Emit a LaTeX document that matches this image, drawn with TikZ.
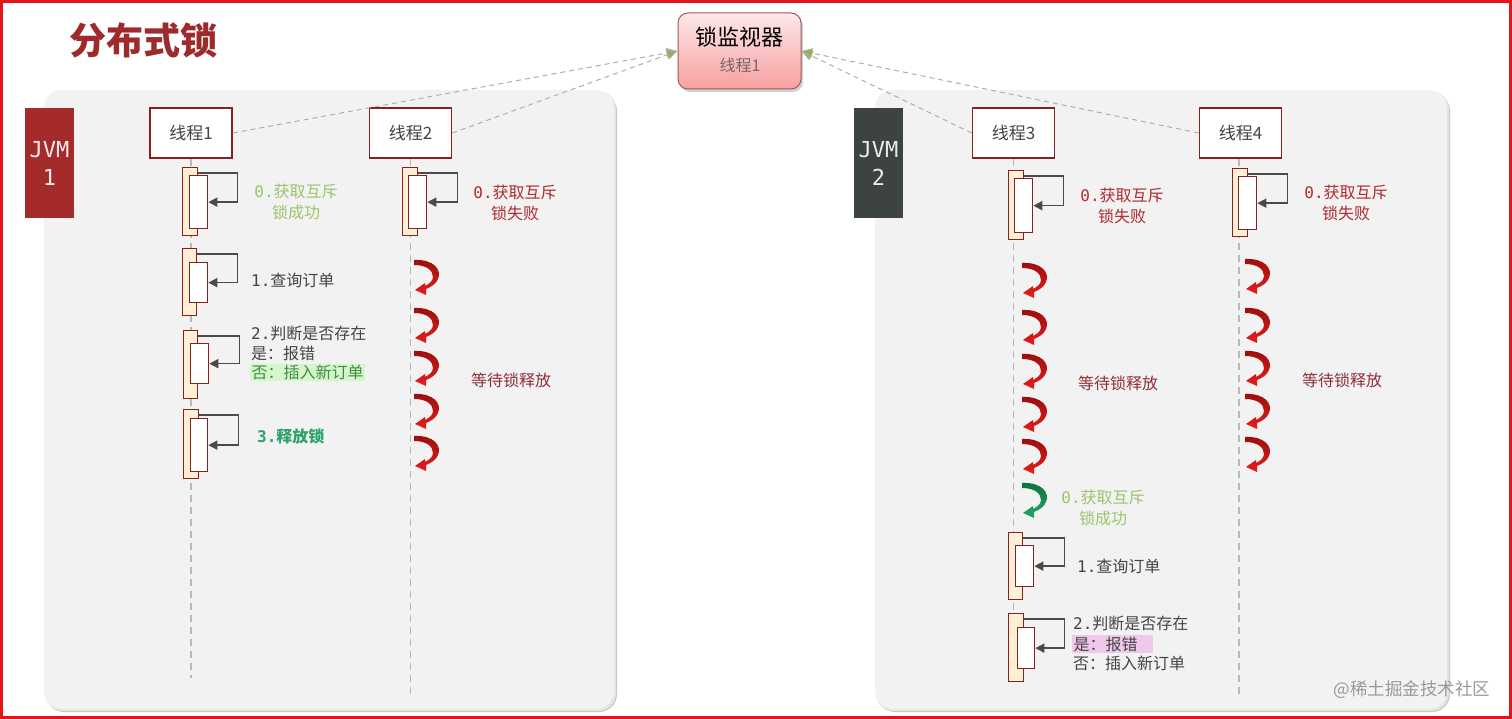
\documentclass[tikz,border=0pt]{standalone}
\usepackage{fontspec}
\setmainfont{Noto Sans CJK SC}
\setmonofont{DejaVu Sans Mono}
\usetikzlibrary{arrows.meta}
\definecolor{framered}{HTML}{E3151C}
\definecolor{titlered}{HTML}{9E2A2B}
\definecolor{boxred}{HTML}{8B1E1E}
\definecolor{cream}{HTML}{FDF0D5}
\definecolor{arrgray}{HTML}{4A4A4A}
\definecolor{lifegray}{HTML}{B8B8B8}
\definecolor{conngray}{HTML}{B4AE9E}
\definecolor{arrgreen}{HTML}{8DB255}
\definecolor{panelgray}{HTML}{F2F2F2}
\definecolor{jvmred}{HTML}{A52A2A}
\definecolor{jvmgray}{HTML}{3D4343}
\definecolor{lgreen}{HTML}{9CC46C}
\definecolor{dred}{HTML}{B02A2E}
\definecolor{maroon}{HTML}{8E2F3C}
\definecolor{sgreen}{HTML}{2BA36B}
\definecolor{tgray}{HTML}{444444}
\definecolor{hlgreen}{HTML}{D5F5CC}
\definecolor{hltext}{HTML}{3F8F3F}
\definecolor{hlpink}{HTML}{F0C8EC}
\definecolor{wmgray}{HTML}{9A9A9A}
\definecolor{redbright}{HTML}{E81C1C}
\definecolor{reddark}{HTML}{9A0E0E}
\definecolor{greenbright}{HTML}{22A865}
\definecolor{greendark}{HTML}{0E7040}
\definecolor{montop}{HTML}{FDE8E8}
\definecolor{monbot}{HTML}{F7A0A0}
\definecolor{monborder}{HTML}{A05A5A}
\definecolor{mongray}{HTML}{7A6666}
\newcommand{\mn}[1]{{\ttfamily #1}}
\begin{document}
\begin{tikzpicture}[x=1pt,y=-1pt,
  thread/.style={draw=boxred, line width=1.6pt, fill=white, minimum width=82pt, minimum height=50pt, inner sep=0pt, font=\fontsize{17}{20}\selectfont, text=tgray},
  actout/.style={draw=boxred, line width=1.3pt, fill=cream, inner sep=0pt, anchor=north west},
  actin/.style={draw=boxred, line width=1.3pt, fill=white, inner sep=0pt, anchor=north west},
  selfarr/.style={draw=arrgray, line width=1.6pt, -{Triangle[length=9pt,width=9pt]}},
  life/.style={draw=lifegray, line width=1.4pt, dash pattern=on 7pt off 5pt},
  conn/.style={draw=conngray, line width=1pt, dash pattern=on 5pt off 4pt, -{Triangle[length=11pt,width=10pt,fill=arrgreen]}},
  lbl/.style={font=\fontsize{16}{21}\selectfont, inner sep=0pt, align=center},
  jvm/.style={minimum width=49pt, minimum height=110pt, inner sep=0pt, align=center, font=\ttfamily\fontsize{22}{28}\selectfont},
  pics/waitarr/.style={code={
    \shade[top color=#1dark, bottom color=#1bright]
      (0,-2) .. controls (20,-3) and (28,8) .. (24,17)
      .. controls (22,22) and (17,25) .. (12,27)
      -- (12,33) -- (1,28) -- (11,21) -- (11,24)
      .. controls (15,22) and (19,19) .. (19,15)
      .. controls (19,8) and (12,3) .. (0,3) -- cycle;
  }}
]
\useasboundingbox (0,0) rectangle (1512,719);
\fill[white] (0,0) rectangle (1512,719);
\draw[framered, line width=3pt] (1.5,1.5) rectangle (1510.5,717.5);

% title
\node[font=\bfseries\fontsize{37}{40}\selectfont, text=titlered, inner sep=0pt] (title) at (143,40) {分布式锁};

% panels with shadow
\fill[black!22, rounded corners=18pt] (46,93) rectangle (617,712);
\fill[black!10, rounded corners=18pt] (45,91) rectangle (616,711);
\fill[panelgray, rounded corners=18pt] (44,90) rectangle (614,709);
\fill[black!22, rounded corners=18pt] (877,93) rectangle (1450,712);
\fill[black!10, rounded corners=18pt] (876,91) rectangle (1449,711);
\fill[panelgray, rounded corners=18pt] (875,90) rectangle (1447,709);

% JVM labels
\node[jvm, fill=jvmred, text=white!92!red] (jvm1) at (49.5,163) {JVM\\1};
\node[jvm, fill=jvmgray, text=white!92!black] (jvm2) at (878.5,163) {JVM\\2};

% monitor
\fill[black!18, rounded corners=10pt] (680,16) rectangle (803,92);
\node[draw=monborder, line width=1pt, top color=montop, bottom color=monbot, rounded corners=10pt, minimum width=123pt, minimum height=76pt, inner sep=0pt] (mon) at (739.5,51) {};
\node[font=\fontsize{22}{24}\selectfont, inner sep=0pt] (monT) at (739.5,37) {锁监视器};
\node[font=\fontsize{16}{18}\selectfont, text=mongray, inner sep=0pt] (monS) at (740,65) {线程1};

% threads
\node[thread] (t1) at (191,133) {线程1};
\node[thread] (t2) at (410.5,133) {线程2};
\node[thread] (t3) at (1013.5,133) {线程3};
\node[thread] (t4) at (1240.5,133) {线程4};

% connectors to monitor
\draw[conn] (t1.east) -- (mon.west);
\draw[conn] (t2.east) -- (mon.west);
\draw[conn] (t3.west) -- (mon.east);
\draw[conn] (t4.west) -- (mon.east);

% lifelines
\coordinate (e1) at (191,678);
\coordinate (e2) at (410.5,698);
\coordinate (e3) at (1013.5,681);
\coordinate (e4) at (1239,698);
\draw[life] (t1.south) -- (e1);
\draw[life] (t2.south) -- (e2);
\draw[life] (t3.south) -- (e3);
\draw[life] ([xshift=-1.5pt]t4.south) -- (e4);

% thread 1 activations
\node[actout, minimum width=15pt, minimum height=68pt] (a10o) at (182,167) {};
\node[actin, minimum width=18pt, minimum height=53pt] (a10i) at (189,175) {};
\draw[selfarr] ([yshift=-6pt]a10o.north east) -- ++(39,0) |- (a10i.east);
\node[actout, minimum width=14pt, minimum height=67pt] (a11o) at (182,248) {};
\node[actin, minimum width=18pt, minimum height=40pt] (a11i) at (189,262) {};
\draw[selfarr] ([yshift=-6pt]a11o.north east) -- ++(40,0) |- (a11i.east);
\node[actout, minimum width=14pt, minimum height=68pt] (a12o) at (183,330) {};
\node[actin, minimum width=18pt, minimum height=40pt] (a12i) at (190,343) {};
\draw[selfarr] ([yshift=-6pt]a12o.north east) -- ++(41,0) |- (a12i.east);
\node[actout, minimum width=15pt, minimum height=69pt] (a13o) at (183,409) {};
\node[actin, minimum width=17pt, minimum height=53pt] (a13i) at (190,418) {};
\draw[selfarr] ([yshift=-6pt]a13o.north east) -- ++(39,0) |- (a13i.east);

% thread 2 activation
\node[actout, minimum width=15pt, minimum height=68pt] (a20o) at (402,167) {};
\node[actin, minimum width=18pt, minimum height=53pt] (a20i) at (408,175) {};
\draw[selfarr] ([yshift=-6pt]a20o.north east) -- ++(39,0) |- (a20i.east);

% thread 3 activations
\node[actout, minimum width=15pt, minimum height=69pt] (a30o) at (1008,170) {};
\node[actin, minimum width=18pt, minimum height=54pt] (a30i) at (1014,178) {};
\draw[selfarr] ([yshift=-6pt]a30o.north east) -- ++(39,0) |- (a30i.east);
\node[actout, minimum width=14pt, minimum height=67pt] (a31o) at (1008,532) {};
\node[actin, minimum width=18pt, minimum height=41pt] (a31i) at (1015,545) {};
\draw[selfarr] ([yshift=-6pt]a31o.north east) -- ++(41,0) |- (a31i.east);
\node[actout, minimum width=15pt, minimum height=68pt] (a32o) at (1008,613) {};
\node[actin, minimum width=17pt, minimum height=41pt] (a32i) at (1017,627) {};
\draw[selfarr] ([yshift=-6pt]a32o.north east) -- ++(40,0) |- (a32i.east);

% thread 4 activation
\node[actout, minimum width=15pt, minimum height=68pt] (a40o) at (1232,168) {};
\node[actin, minimum width=18pt, minimum height=53pt] (a40i) at (1238,176) {};
\draw[selfarr] ([yshift=-6pt]a40o.north east) -- ++(39,0) |- (a40i.east);

% waiting arrows
\foreach \y in {262,310,353,396,438} \pic at (414,\y) {waitarr=red};
\foreach \y in {265,312,356,399,441} \pic at (1022,\y) {waitarr=red};
\pic at (1022,485) {waitarr=green};
\foreach \y in {261,310,353,396,439} \pic at (1245,\y) {waitarr=red};

% thread 1 texts
\node[lbl, text=lgreen] (l10) at (296,201.5) {\mn{0.}获取互斥\\锁成功};
\node[lbl, text=tgray, anchor=west] (l11) at (251,280) {\mn{1.}查询订单};
\node[lbl, text=tgray, anchor=west] (l12a) at (251,333) {\mn{2.}判断是否存在};
\node[lbl, text=tgray, anchor=west] (l12b) at (251,353) {是：报错};
\node[lbl, text=hltext, fill=hlgreen, inner sep=1.5pt, anchor=west] (l12c) at (250,372.5) {否：插入新订单};
\node[lbl, text=sgreen, anchor=west, font=\bfseries\fontsize{16}{21}\selectfont] (l13) at (257,436) {\mn{3.}释放锁};

% thread 2 texts
\node[lbl, text=dred] (l20) at (515,202.5) {\mn{0.}获取互斥\\锁失败};
\node[lbl, text=maroon] (w2) at (511,380) {等待锁释放};

% thread 3 texts
\node[lbl, text=dred] (l30) at (1122,206) {\mn{0.}获取互斥\\锁失败};
\node[lbl, text=maroon] (w3) at (1118,383) {等待锁释放};
\node[lbl, text=lgreen] (l3s) at (1103,507.5) {\mn{0.}获取互斥\\锁成功};
\node[lbl, text=tgray, anchor=west] (l31) at (1077,566) {\mn{1.}查询订单};
\node[lbl, text=tgray, anchor=west] (l32a) at (1073,623) {\mn{2.}判断是否存在};
\node[lbl, text=tgray, fill=hlpink, inner sep=1.5pt, anchor=west] (l32b) at (1072,644) {是：报错\hspace{14pt}};
\node[lbl, text=tgray, anchor=west] (l32c) at (1073,663) {否：插入新订单};

% thread 4 texts
\node[lbl, text=dred] (l40) at (1346,203) {\mn{0.}获取互斥\\锁失败};
\node[lbl, text=maroon] (w4) at (1342,380) {等待锁释放};

% watermark
\node[font=\fontsize{17.5}{20}\selectfont, text=wmgray, inner sep=0pt] (wm) at (1412,690) {@稀土掘金技术社区};
\end{tikzpicture}
\end{document}
